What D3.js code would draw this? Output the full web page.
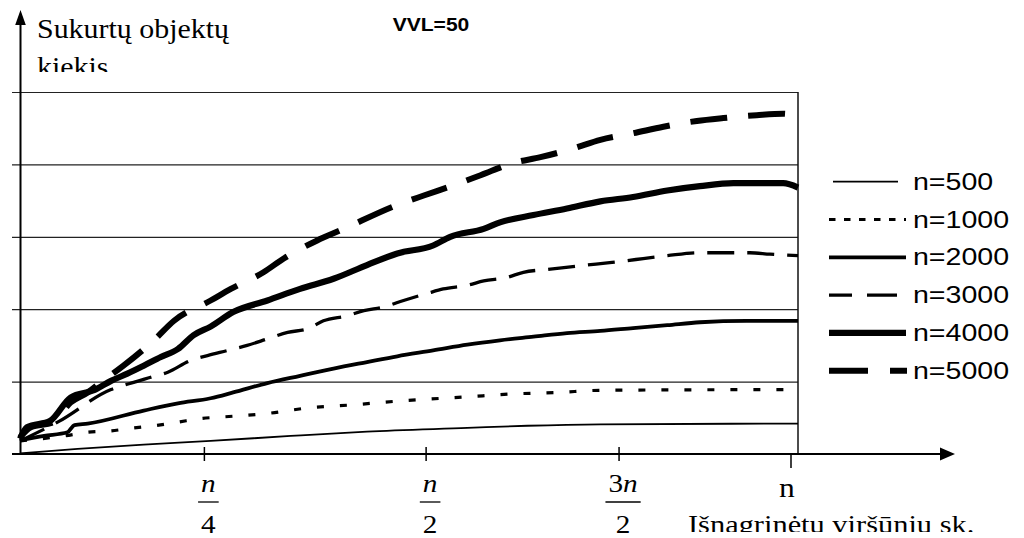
<!DOCTYPE html>
<html>
<head>
<meta charset="utf-8">
<script src="https://cdn.jsdelivr.net/npm/d3@7"></script>
<style>
  body { margin: 0; background: #fff; }
  svg { display: block; }
  .serif { font-family: "Liberation Serif", "Times New Roman", serif; }
  .sans { font-family: "Liberation Sans", Arial, sans-serif; }
</style>
</head>
<body>
<div id="chart"></div>
<script>
// Series: [fraction of n, objects created]
const n500 = [[0,0.01],[0.074,0.07],[0.159,0.13],[0.245,0.18],[0.348,0.25],[0.446,0.31],[0.575,0.36],[0.652,0.39],[0.746,0.41],[1,0.42]];
const n1000 = [[0,0.18],[0.057,0.25],[0.087,0.30],[0.117,0.32],[0.146,0.36],[0.172,0.39],[0.203,0.44],[0.232,0.49],[0.258,0.51],[0.318,0.56],[0.373,0.64],[0.429,0.68],[0.485,0.73],[0.575,0.79],[0.634,0.83],[0.691,0.85],[0.746,0.88],[1,0.89]];
const n2000 = [[0,0.19],[0.031,0.25],[0.061,0.30],[0.07,0.40],[0.087,0.42],[0.159,0.60],[0.203,0.70],[0.245,0.77],[0.274,0.85],[0.318,0.98],[0.36,1.08],[0.403,1.18],[0.446,1.27],[0.485,1.35],[0.531,1.43],[0.575,1.51],[0.617,1.57],[0.66,1.62],[0.703,1.67],[0.746,1.70],[0.788,1.74],[0.832,1.78],[0.874,1.82],[0.934,1.84],[1,1.84]];
const n3000 = [[0,0.18],[0.05,0.45],[0.117,0.89],[0.14,0.97],[0.168,1.06],[0.19,1.13],[0.219,1.29],[0.241,1.36],[0.267,1.43],[0.292,1.50],[0.318,1.59],[0.344,1.68],[0.37,1.73],[0.39,1.84],[0.421,1.91],[0.442,1.98],[0.467,2.03],[0.493,2.12],[0.524,2.22],[0.544,2.28],[0.575,2.33],[0.596,2.39],[0.626,2.44],[0.647,2.51],[0.678,2.55],[0.729,2.61],[0.755,2.64],[0.78,2.67],[0.801,2.70],[0.832,2.74],[0.874,2.78],[0.938,2.78],[0.964,2.76],[1,2.74]];
const n4000 = [[0,0.21],[0.009,0.37],[0.039,0.46],[0.065,0.78],[0.095,0.88],[0.117,1.01],[0.138,1.11],[0.159,1.22],[0.181,1.34],[0.203,1.45],[0.223,1.64],[0.245,1.76],[0.274,1.96],[0.318,2.12],[0.36,2.28],[0.403,2.42],[0.446,2.61],[0.485,2.77],[0.531,2.88],[0.553,3.00],[0.596,3.11],[0.617,3.20],[0.66,3.30],[0.703,3.39],[0.746,3.49],[0.788,3.55],[0.832,3.64],[0.874,3.70],[0.917,3.74],[0.981,3.74],[1,3.68]];
const n5000 = [[0,0.23],[0.014,0.37],[0.043,0.44],[0.065,0.71],[0.087,0.85],[0.104,0.99],[0.133,1.22],[0.172,1.57],[0.198,1.84],[0.245,2.12],[0.271,2.28],[0.313,2.51],[0.339,2.70],[0.382,2.95],[0.412,3.09],[0.485,3.44],[0.519,3.57],[0.557,3.71],[0.592,3.85],[0.634,4.02],[0.669,4.10],[0.711,4.22],[0.746,4.34],[0.788,4.43],[0.827,4.52],[0.87,4.60],[0.904,4.64],[0.947,4.68],[0.981,4.70],[1,4.66]];

const seriesNames = ["n=500", "n=1000", "n=2000", "n=3000", "n=4000", "n=5000"];
const seriesValues = [n500, n1000, n2000, n3000, n4000, n5000];

// x tick marks (fraction of n) and their labels
const xTickValues = [0.237, 0.522, 0.770];
const xTickNum = ["n", "n", "3n"];
const xTickDen = ["4", "2", "2"];
const xEndTick = 0.991;
const xEndLabel = "n";
const yTickValues = [0, 1, 2, 3, 4, 5];

const yTitle = ["Sukurtų objektų", "kiekis"];
const xTitle = "Išnagrinėtų viršūnių sk.";
const chartTitle = "VVL=50";

// line look for each series
const lineStyle = {
  "n=500":  { w: 1.8, dash: null,      legDash: null,        legX: 833, legEnd: 898 },
  "n=1000": { w: 3.2, dash: "7,16",    legDash: "6.5,8.5",   legX: 829, legEnd: 906 },
  "n=2000": { w: 3.8, dash: null,      legDash: null,        legX: 829, legEnd: 906 },
  "n=3000": { w: 3.3, dash: "27,13",   legDash: "23,15,30",  legX: 829, legEnd: 897 },
  "n=4000": { w: 6.2, dash: null,      legDash: null,        legX: 829, legEnd: 906 },
  "n=5000": { w: 6,   dash: "37,21",   legDash: "39,22,17",  legX: 829, legEnd: 907 }
};

const W = 1024, H = 538;
const margin = { top: 92, right: 226, bottom: 84, left: 20 };
const width = W - margin.left - margin.right;
const height = H - margin.top - margin.bottom;
const stretch = 1.17; // the original picture is a bit wider than tall

const svg = d3.select("#chart").append("svg")
  .attr("width", W)
  .attr("height", H);

const defs = svg.append("defs");
defs.append("clipPath").attr("id", "clipY")
  .append("rect").attr("x", 0).attr("y", 0).attr("width", 320).attr("height", 72);
defs.append("clipPath").attr("id", "clipX")
  .append("rect").attr("x", 600).attr("y", 460).attr("width", 424).attr("height", 72);

const inner = svg.append("g")
  .attr("transform", `translate(${margin.left}, ${margin.top})`);

const x = d3.scaleLinear().domain([0, 1]).range([0, width]);
const y = d3.scaleLinear().domain([0, 5]).range([height, 0]);

// gridlines + left ticks
const yAxis = inner.append("g")
  .call(d3.axisLeft(y).tickValues(yTickValues).tickSize(-width).tickFormat(""));
yAxis.select(".domain").remove();
yAxis.selectAll(".tick line")
  .attr("x1", -8)
  .attr("stroke", "#222")
  .attr("stroke-width", 1.2);

// right border
inner.append("line")
  .attr("x1", width).attr("x2", width)
  .attr("y1", 0).attr("y2", height)
  .attr("stroke", "#111").attr("stroke-width", 1.5);

// series lines
const line = d3.line()
  .x(d => x(d[0]))
  .y(d => y(d[1]))
  .curve(d3.curveMonotoneX);

seriesNames.forEach((name, i) => {
  const st = lineStyle[name];
  inner.append("path")
    .datum(seriesValues[i])
    .attr("fill", "none")
    .attr("stroke", "#000")
    .attr("stroke-width", st.w)
    .attr("stroke-dasharray", st.dash)
    .attr("stroke-linejoin", "round")
    .attr("d", line);
});

// y axis with arrow
inner.append("line")
  .attr("x1", 0.5).attr("x2", 0.5)
  .attr("y1", height + 1).attr("y2", -margin.top + 22)
  .attr("stroke", "#000").attr("stroke-width", 2);
inner.append("path")
  .attr("d", `M0.5,${-margin.top + 10} L-4.8,${-margin.top + 25} L5.8,${-margin.top + 25} Z`)
  .attr("fill", "#000");

// x axis with arrow
inner.append("line")
  .attr("x1", -8).attr("x2", 925)
  .attr("y1", height).attr("y2", height)
  .attr("stroke", "#000").attr("stroke-width", 2);
inner.append("path")
  .attr("d", `M935,${height} L920,${height - 6.5} L920,${height + 6.5} Z`)
  .attr("fill", "#000");

// x ticks
inner.selectAll(".xtick")
  .data(xTickValues)
  .join("line")
  .attr("class", "xtick")
  .attr("x1", d => x(d)).attr("x2", d => x(d))
  .attr("y1", height - 7).attr("y2", height + 7)
  .attr("stroke", "#000").attr("stroke-width", 1.5);
inner.append("line")
  .attr("x1", x(xEndTick)).attr("x2", x(xEndTick))
  .attr("y1", height).attr("y2", height + 14)
  .attr("stroke", "#000").attr("stroke-width", 1.5);

// fraction labels
xTickValues.forEach((v, i) => {
  const g = inner.append("g")
    .attr("class", "serif")
    .attr("transform", `translate(${x(v) + 4}, 0)`);
  const num = g.append("text")
    .attr("transform", `translate(0, ${height + 38}) scale(${stretch}, 1)`)
    .attr("text-anchor", "middle")
    .attr("font-size", 25);
  xTickNum[i].split("").forEach(ch => {
    num.append("tspan")
      .attr("font-style", ch === "n" ? "italic" : "normal")
      .text(ch);
  });
  const bw = num.node().getComputedTextLength() * stretch + 6;
  g.append("line")
    .attr("x1", -bw / 2).attr("x2", bw / 2)
    .attr("y1", height + 48).attr("y2", height + 48)
    .attr("stroke", "#000").attr("stroke-width", 1.3);
  g.append("text")
    .attr("transform", `translate(0, ${height + 79}) scale(${stretch}, 1)`)
    .attr("text-anchor", "middle")
    .attr("font-size", 25)
    .text(xTickDen[i]);
});

inner.append("text")
  .attr("class", "serif")
  .attr("transform", `translate(${x(xEndTick) - 4}, ${height + 43}) scale(${stretch}, 1)`)
  .attr("text-anchor", "middle")
  .attr("font-size", 27)
  .text(xEndLabel);

// axis titles
const yt = svg.append("g").attr("clip-path", "url(#clipY)");
yTitle.forEach((t, i) => {
  yt.append("text")
    .attr("class", "serif")
    .attr("transform", `translate(37, ${38 + i * 38}) scale(1.13, 1)`)
    .attr("font-size", 26.5)
    .text(t);
});

svg.append("g").attr("clip-path", "url(#clipX)")
  .append("text")
  .attr("class", "serif")
  .attr("transform", `translate(688, 533) scale(${stretch}, 1)`)
  .attr("font-size", 26)
  .text(xTitle);

// chart title
svg.append("text")
  .attr("class", "sans")
  .attr("transform", `translate(431, 31) scale(${stretch}, 1)`)
  .attr("text-anchor", "middle")
  .attr("font-size", 18)
  .attr("font-weight", "bold")
  .text(chartTitle);

// legend
const legend = svg.append("g");
seriesNames.forEach((name, i) => {
  const st = lineStyle[name];
  const ly = 181.7 + i * 37.8;
  legend.append("line")
    .attr("x1", st.legX).attr("x2", st.legEnd)
    .attr("y1", ly).attr("y2", ly)
    .attr("stroke", "#000")
    .attr("stroke-width", st.w)
    .attr("stroke-dasharray", st.legDash);
  legend.append("text")
    .attr("class", "sans")
    .attr("transform", `translate(913, ${ly + 8}) scale(1.19, 1)`)
    .attr("font-size", 24)
    .text(name);
});
</script>
</body>
</html>
